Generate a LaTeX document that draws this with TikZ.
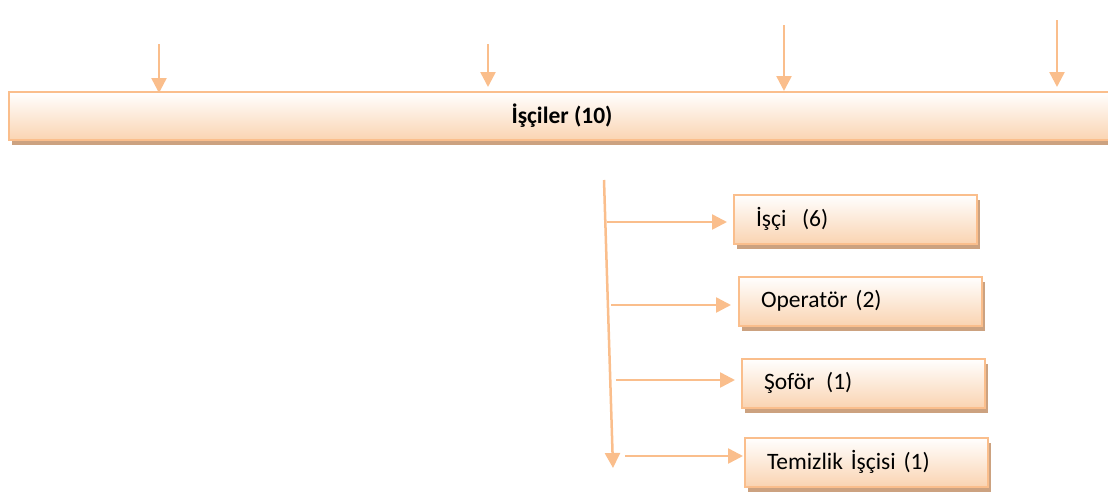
\documentclass[tikz,border=0pt]{standalone}
\usepackage{fontspec}
\setmainfont{Carlito}
\usetikzlibrary{arrows.meta,shadows}
\definecolor{edgeorange}{RGB}{250,190,140}
\definecolor{boxpeach}{RGB}{250,212,178}
\definecolor{shadowtan}{RGB}{204,162,128}
\tikzset{
  box/.style={draw=edgeorange, line width=2pt, top color=white, bottom color=boxpeach,
    drop shadow={shadow xshift=3pt, shadow yshift=-5pt, fill=shadowtan, opacity=1},
    font=\fontsize{23.5}{26}\selectfont},
  itembox/.style={box, minimum height=49pt, text width=199pt, inner xsep=22pt, align=left},
  arr/.style={draw=edgeorange, line width=2.5pt, -{Triangle[width=15pt,length=15pt]}}
}
\begin{document}
\begin{tikzpicture}[x=1pt,y=-1pt]
\useasboundingbox (0,0) rectangle (1108,499);

\node[box, anchor=west, minimum width=1160pt, minimum height=48pt, inner sep=0pt] (bar) at (8,116) {\textbf{İşçiler (10)}\kern54pt};

\node[itembox] (isci) at (855.5,219) {İşçi\ \ (6)};
\node[itembox] (oper) at (860.5,301) {Operatör (2)};
\node[itembox] (sofor) at (863.5,383) {Şoför\,\ (1)};
\node[itembox] (temiz) at (866.5,462) {Temizlik İşçisi (1)};

\coordinate (t1) at (159,44);
\coordinate (t2) at (488,44);
\coordinate (t3) at (784,25);
\coordinate (t4) at (1057,20);
\draw[arr] (t1) -- ([yshift=-2pt]t1 |- bar.north);
\draw[arr] (t2) -- ([yshift=4pt]t2 |- bar.north);
\draw[arr] (t3) -- (t3 |- bar.north);
\draw[arr] (t4) -- ([yshift=4pt]t4 |- bar.north);

\coordinate (vtop) at (604,180);
\coordinate (vbot) at (613,468);
\draw[arr] (vtop) -- (vbot);

\coordinate (a1) at (607,222);
\coordinate (a2) at (611,305);
\coordinate (a3) at (616,380);
\coordinate (a4) at (625,456);
\draw[arr, shorten >=6pt] (a1) -- (a1 -| isci.west);
\draw[arr, shorten >=7pt] (a2) -- (a2 -| oper.west);
\draw[arr, shorten >=6pt] (a3) -- (a3 -| sofor.west);
\draw[arr, shorten >=1pt] (a4) -- (a4 -| temiz.west);
\end{tikzpicture}
\end{document}
